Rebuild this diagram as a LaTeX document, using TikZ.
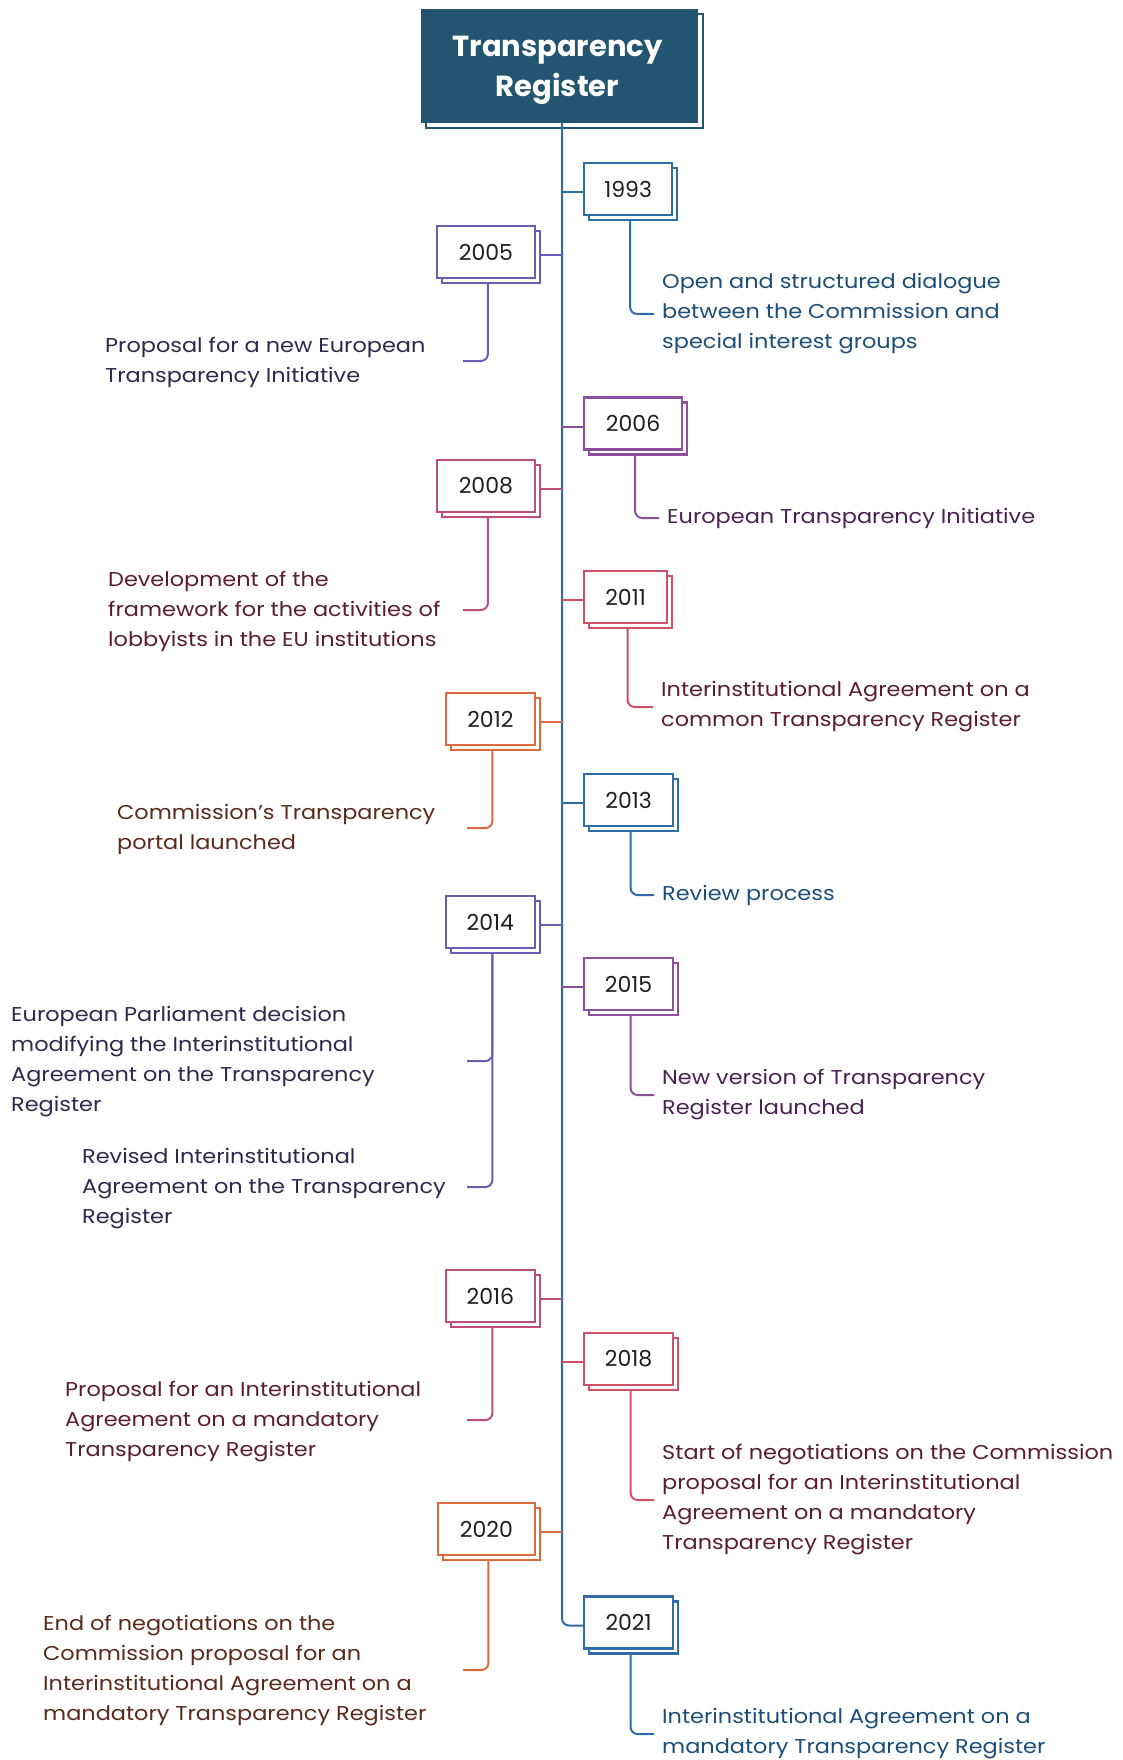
\documentclass[tikz,border=0pt]{standalone}
\usepackage{fontspec}
\setmainfont{Poppins}[FakeStretch=1.12]
\newfontfamily\plainfont{Poppins}
\definecolor{tblue}{HTML}{2E6DA6}
\definecolor{ttblue}{HTML}{1D4E79}
\definecolor{tpurp}{HTML}{6A5DB3}
\definecolor{ttpurp}{HTML}{2C2A4C}
\definecolor{tviol}{HTML}{8E4F9F}
\definecolor{ttviol}{HTML}{4A2152}
\definecolor{tmag}{HTML}{BE4F7B}
\definecolor{tred}{HTML}{D24F68}
\definecolor{ttred}{HTML}{5A1E30}
\definecolor{torng}{HTML}{DD6A3F}
\definecolor{ttorng}{HTML}{5A2A1C}
\definecolor{ttitle}{HTML}{235470}
\begin{document}
\begin{tikzpicture}[x=1pt,y=-1pt,
  yearbox/.style={draw=#1, line width=2.2pt, fill=white, minimum height=52pt, inner sep=0pt,
    font=\plainfont\fontsize{22}{26}\selectfont, text=black!88,
    preaction={draw=#1, line width=2.2pt, fill=white, transform canvas={shift={(5pt,-5pt)}}}},
  descr/.style={font=\fontsize{20}{30}\selectfont, align=left, inner sep=0pt, text=#1},
  rdescr/.style={descr=#1, anchor=west, inner xsep=8pt},
  ldescr/.style={descr=#1, anchor=west},
  conn/.style={draw=#1, line width=2pt, rounded corners=7pt}]
\fill[white] (0,0) rectangle (1122,1760);
\useasboundingbox (0,0) rectangle (1122,1760);

% title
\node[fill=ttitle, minimum width=277pt, minimum height=114pt,
  preaction={draw=ttitle, line width=1.6pt, fill=white, transform canvas={shift={(5pt,-5pt)}}}]
  (title) at (559.5,66) {};
\node[align=center, text=white, font=\plainfont\bfseries\fontsize{29}{40}\selectfont]
  (titletext) at ([xshift=-2pt,yshift=-4pt]title.center) {Transparency\\Register};
\coordinate (tl) at (562,0);

% year boxes right
\node[yearbox=tblue, anchor=west, minimum width=88pt] (y1993) at (583,189) {1993};
\node[yearbox=tviol, anchor=west, minimum width=98pt] (y2006) at (583,423.5) {2006};
\node[yearbox=tred,  anchor=west, minimum width=83pt] (y2011) at (583,597) {2011};
\node[yearbox=tblue, anchor=west, minimum width=89pt] (y2013) at (583,800) {2013};
\node[yearbox=tviol, anchor=west, minimum width=89pt] (y2015) at (583,984) {2015};
\node[yearbox=tred,  anchor=west, minimum width=89pt] (y2018) at (583,1359) {2018};
\node[yearbox=tblue, anchor=west, minimum width=89pt] (y2021) at (583,1622.5) {2021};
% year boxes left
\node[yearbox=tpurp, anchor=east, minimum width=98pt] (y2005) at (536,252) {2005};
\node[yearbox=tmag,  anchor=east, minimum width=98pt] (y2008) at (536,486) {2008};
\node[yearbox=torng, anchor=east, minimum width=89pt] (y2012) at (536,719) {2012};
\node[yearbox=tpurp, anchor=east, minimum width=89pt] (y2014) at (536,922) {2014};
\node[yearbox=tmag,  anchor=east, minimum width=89pt] (y2016) at (536,1296) {2016};
\node[yearbox=torng, anchor=east, minimum width=97pt] (y2020) at (536,1529) {2020};

% descriptions right
\node[rdescr=ttblue] (t1993) at (654,314) {Open and structured dialogue\\between the Commission and\\special interest groups};
\node[rdescr=ttviol] (t2006) at (659,518) {European Transparency Initiative};
\node[rdescr=ttred] (t2011) at (653,707) {Interinstitutional Agreement on a\\common Transparency Register};
\node[rdescr=ttblue] (t2013) at (654,895) {Review process};
\node[rdescr=ttviol] (t2015) at (654,1095) {New version of Transparency\\Register launched};
\node[rdescr=ttred] (t2018) at (654,1500) {Start of negotiations on the Commission\\proposal for an Interinstitutional\\Agreement on a mandatory\\Transparency Register};
\node[rdescr=ttblue] (t2021) at (654,1734) {Interinstitutional Agreement on a\\mandatory Transparency Register};
% descriptions left
\node[ldescr=ttpurp] (t2005) at (105,362) {Proposal for a new European\\Transparency Initiative};
\node[ldescr=ttred] (t2008) at (108,611) {Development of the\\framework for the activities of\\lobbyists in the EU institutions};
\node[ldescr=ttorng] (t2012) at (117,829) {Commission's Transparency\\portal launched};
\node[ldescr=ttpurp] (t2014a) at (11,1062) {European Parliament decision\\modifying the Interinstitutional\\Agreement on the Transparency\\Register};
\node[ldescr=ttpurp] (t2014b) at (82,1189) {Revised Interinstitutional\\Agreement on the Transparency\\Register};
\node[ldescr=ttred] (t2016) at (65,1422) {Proposal for an Interinstitutional\\Agreement on a mandatory\\Transparency Register};
\node[ldescr=ttorng] (t2020) at (43,1671) {End of negotiations on the\\Commission proposal for an\\Interinstitutional Agreement on a\\mandatory Transparency Register};

% hook ends of the left connectors
\coordinate (h2005) at (463,361);
\coordinate (h2008) at (463,610);
\coordinate (h2012) at (467,828);
\coordinate (h2014a) at (467,1061);
\coordinate (h2014b) at (467,1187);
\coordinate (h2016) at (467,1420);
\coordinate (h2020) at (463,1670);

% branch points
\foreach \y in {1993,2006,2011,2013,2015,2018,2021}
  \coordinate (b\y) at ([yshift=-3pt]y\y.west);
\foreach \y in {2005,2008,2012,2014,2016,2020}
  \coordinate (b\y) at ([xshift=5pt,yshift=-3pt]y\y.east);

% timeline
\draw[conn=tblue] (title.south -| tl) |- (b2021);

% branches
\draw[conn=tblue] (b1993 -| tl) -- (b1993);
\draw[conn=tviol] (b2006 -| tl) -- (b2006);
\draw[conn=tred]  (b2011 -| tl) -- (b2011);
\draw[conn=tblue] (b2013 -| tl) -- (b2013);
\draw[conn=tviol] (b2015 -| tl) -- (b2015);
\draw[conn=tred]  (b2018 -| tl) -- (b2018);
\draw[conn=tpurp] (b2005) -- (b2005 -| tl);
\draw[conn=tmag]  (b2008) -- (b2008 -| tl);
\draw[conn=torng] (b2012) -- (b2012 -| tl);
\draw[conn=tpurp] (b2014) -- (b2014 -| tl);
\draw[conn=tmag]  (b2016) -- (b2016 -| tl);
\draw[conn=torng] (b2020) -- (b2020 -| tl);

% connectors to descriptions
\draw[conn=tblue] ([xshift=2pt,yshift=-5pt]y1993.south) |- (t1993.west);
\draw[conn=tviol] ([xshift=2pt,yshift=-5pt]y2006.south) |- (t2006.west);
\draw[conn=tred]  ([xshift=2pt,yshift=-5pt]y2011.south) |- (t2011.west);
\draw[conn=tblue] ([xshift=2pt,yshift=-5pt]y2013.south) |- (t2013.west);
\draw[conn=tviol] ([xshift=2pt,yshift=-5pt]y2015.south) |- (t2015.west);
\draw[conn=tred]  ([xshift=2pt,yshift=-5pt]y2018.south) |- (t2018.west);
\draw[conn=tblue] ([xshift=2pt,yshift=-5pt]y2021.south) |- (t2021.west);
\draw[conn=tpurp] ([xshift=2pt,yshift=-5pt]y2005.south) |- (h2005);
\draw[conn=tmag]  ([xshift=2pt,yshift=-5pt]y2008.south) |- (h2008);
\draw[conn=torng] ([xshift=2pt,yshift=-5pt]y2012.south) |- (h2012);
\draw[conn=tpurp] ([xshift=2pt,yshift=-5pt]y2014.south) |- (h2014a);
\draw[conn=tpurp] ([xshift=2pt,yshift=-5pt]y2014.south) |- (h2014b);
\draw[conn=tmag]  ([xshift=2pt,yshift=-5pt]y2016.south) |- (h2016);
\draw[conn=torng] ([xshift=2pt,yshift=-5pt]y2020.south) |- (h2020);
\end{tikzpicture}
\end{document}
